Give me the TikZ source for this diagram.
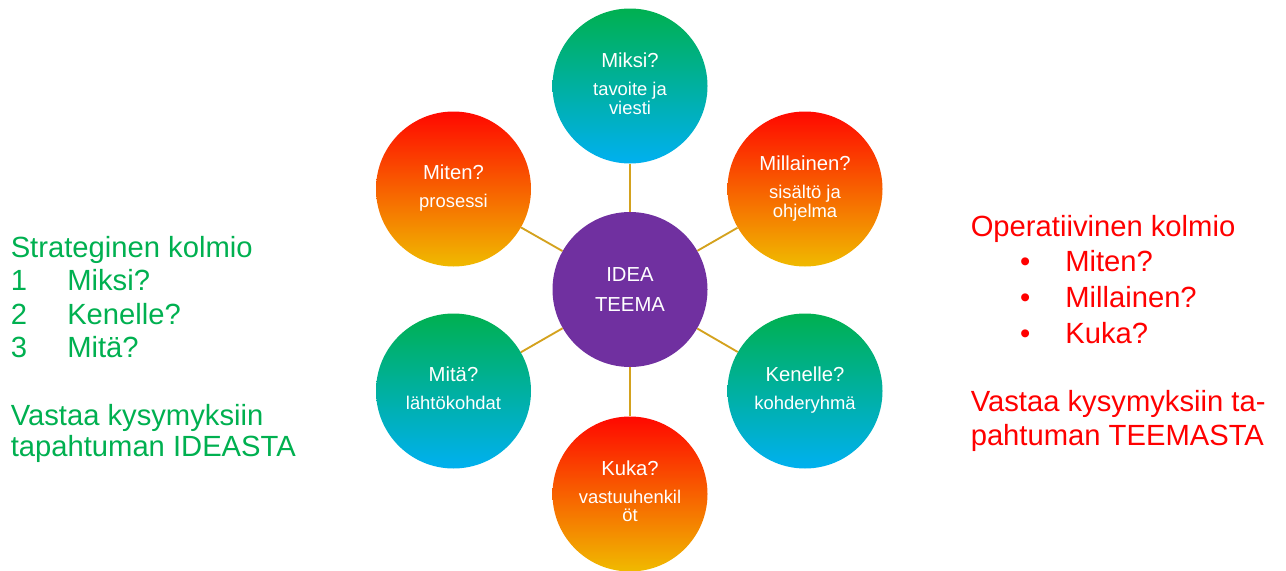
\documentclass[tikz,border=0pt]{standalone}
\usepackage{fontspec}
\setmainfont{Liberation Sans}
\usetikzlibrary{positioning}

\definecolor{pgreen}{RGB}{0,176,80}
\definecolor{pblue}{RGB}{0,176,240}
\definecolor{pred}{RGB}{255,8,0}
\definecolor{pgold}{RGB}{240,186,0}
\definecolor{ideapurple}{RGB}{112,48,160}
\definecolor{spokegold}{RGB}{212,162,30}

\newcommand{\qfont}{\fontsize{15.2}{21}\selectfont}
\newcommand{\afont}{\fontsize{13.8}{13}\selectfont}
\newcommand{\sidefont}{\fontsize{21.9}{25}\selectfont}
\newcommand{\answer}[1]{{\afont\begin{tabular}[t]{@{}c@{}}#1\end{tabular}}}

\begin{document}
\begin{tikzpicture}[
	x=0.75pt, y=-0.75pt,
	bubble/.style={circle, minimum size=116.25pt, inner sep=0pt, text=white, align=center, font=\qfont},
	greenball/.style={bubble, top color=pgreen, bottom color=pblue},
	redball/.style={bubble, top color=pred, bottom color=pgold},
	spoke/.style={draw=spokegold, line width=1.4pt},
	strategic/.style={anchor=base west, inner sep=0pt, text=pgreen, font=\sidefont},
	operative/.style={anchor=base west, inner sep=0pt, text=red, font=\sidefont}
	]
\useasboundingbox (0,0) rectangle (1286,571);

% Central idea
\node [bubble, fill=ideapurple] (idea) at (630,289.5) {IDEA\\[2pt]TEEMA};

% Questions round it
\node [greenball] (miksi) at (630,86) {Miksi?\\\answer{tavoite ja\\viesti}};
\node [redball] (millainen) at (805,189) {Millainen?\\\answer{sis\"alt\"o ja\\ohjelma}};
\node [greenball] (kenelle) at (805,391) {Kenelle?\\\answer{kohderyhm\"a}};
\node [redball] (kuka) at (630,494) {Kuka?\\\answer{vastuuhenkil\\\"ot}};
\node [greenball] (mita) at (453.5,391) {Mit\"a?\\\answer{l\"aht\"okohdat}};
\node [redball] (miten) at (453.5,189) {Miten?\\\answer{prosessi}};

\draw[spoke] (idea) -- (miksi);
\draw[spoke] (idea) -- (millainen);
\draw[spoke] (idea) -- (kenelle);
\draw[spoke] (idea) -- (kuka);
\draw[spoke] (idea) -- (mita);
\draw[spoke] (idea) -- (miten);

% Strategic triangle
\node [strategic] (strat title) at (10.5,257.3) {Strateginen kolmio};
\node [strategic] (strat one) at (10.5,290.5) {\makebox[42.4pt][l]{1}Miksi?};
\node [strategic] (strat two) at (10.5,324) {\makebox[42.4pt][l]{2}Kenelle?};
\node [strategic] (strat three) at (10.5,357.3) {\makebox[42.4pt][l]{3}Mit\"a?};
\node [strategic] (strat answer1) at (10.5,425.7) {Vastaa kysymyksiin};
\node [strategic] (strat answer2) at (10.5,456) {tapahtuman IDEASTA};

% Operative triangle
\node [operative] (oper title) at (970.5,236.7) {Operatiivinen kolmio};
\node [operative] (oper one) at (970.5,271.7) {\makebox[70.9pt][l]{\hspace{37.1pt}\textbullet}Miten?};
\node [operative] (oper two) at (970.5,307.5) {\makebox[70.9pt][l]{\hspace{37.1pt}\textbullet}Millainen?};
\node [operative] (oper three) at (970.5,343.3) {\makebox[70.9pt][l]{\hspace{37.1pt}\textbullet}Kuka?};
\node [operative] (oper answer1) at (970.5,411.7) {Vastaa kysymyksiin ta-};
\node [operative] (oper answer2) at (970.5,445) {pahtuman TEEMASTA};

\end{tikzpicture}
\end{document}
